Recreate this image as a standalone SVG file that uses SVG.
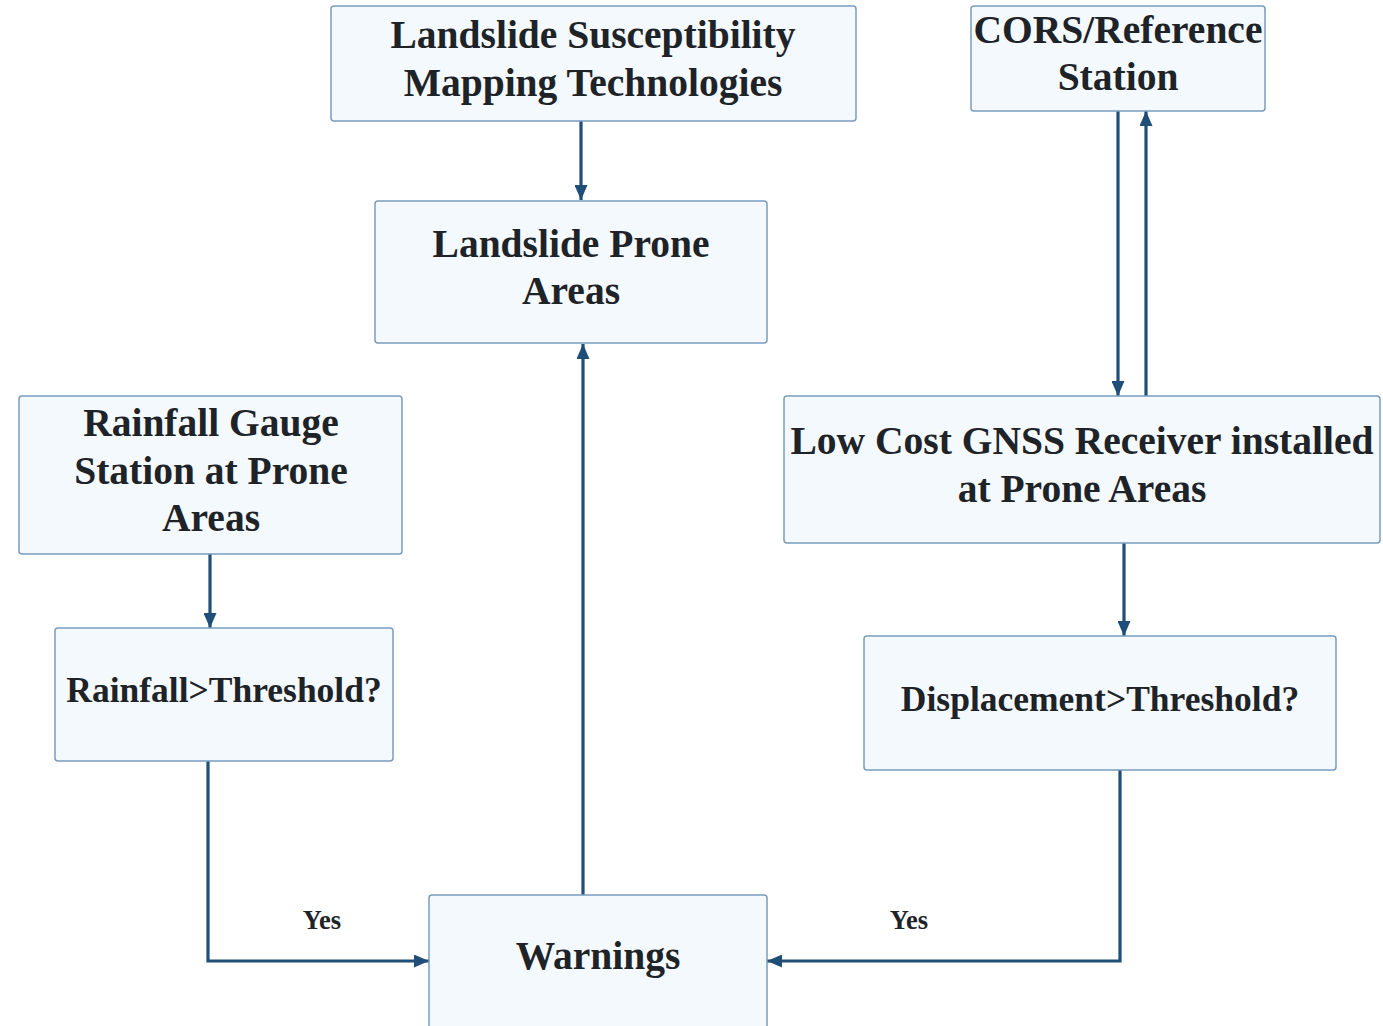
<svg xmlns="http://www.w3.org/2000/svg" width="1383" height="1026" viewBox="0 0 1383 1026">
<style>
.box{fill:#f4f9fd;stroke:#7a9cbd;stroke-width:1.5}
.t{font-family:"Liberation Serif","Times New Roman",serif;font-weight:bold;font-size:39.5px;fill:#1e2328;text-anchor:middle}
.q{font-size:35.5px}
.y{font-size:26.5px}
.c{fill:none;stroke:#1f4e79;stroke-width:3.2;marker-end:url(#ah)}
</style>
<defs>
<marker id="ah" markerUnits="userSpaceOnUse" markerWidth="15" markerHeight="13" viewBox="0 0 15 13" refX="15" refY="6.5" orient="auto">
<path d="M0,0 L15,6.5 L0,13 Z" fill="#1f4e79"/>
</marker>
</defs>
<rect width="1383" height="1026" fill="#ffffff"/>
<g id="connectors">
<path class="c" d="M581,121 V200"/>
<path class="c" d="M1118,111 V396"/>
<path class="c" d="M1146,396 V111"/>
<path class="c" d="M210,554 V628"/>
<path class="c" d="M1124,543 V636"/>
<path class="c" d="M208,761 V961 H429"/>
<path class="c" d="M1120,770 V961 H767"/>
<path class="c" d="M583,895 V344"/>
<text class="t y" x="322" y="929">Yes</text>
<text class="t y" x="909" y="929">Yes</text>
</g>
<g id="lsm">
<rect class="box" x="331" y="6" width="525" height="115" rx="3"/>
<text class="t" x="593" y="48">Landslide Susceptibility</text>
<text class="t" x="593" y="96">Mapping Technologies</text>
</g>
<g id="cors">
<rect class="box" x="971" y="6" width="294" height="105" rx="3"/>
<text class="t" x="1118" y="43">CORS/Reference</text>
<text class="t" x="1118" y="90">Station</text>
</g>
<g id="lpa">
<rect class="box" x="375" y="201" width="392" height="142" rx="3"/>
<text class="t" x="571" y="257">Landslide Prone</text>
<text class="t" x="571" y="304">Areas</text>
</g>
<g id="rain">
<rect class="box" x="19" y="396" width="383" height="158" rx="3"/>
<text class="t" x="211" y="436">Rainfall Gauge</text>
<text class="t" x="211" y="484">Station at Prone</text>
<text class="t" x="211" y="531">Areas</text>
</g>
<g id="rainq">
<rect class="box" x="55" y="628" width="338" height="133" rx="3"/>
<text class="t q" x="224" y="702">Rainfall&gt;Threshold?</text>
</g>
<g id="gnss">
<rect class="box" x="784" y="396" width="596" height="147" rx="3"/>
<text class="t" x="1082" y="454">Low Cost GNSS Receiver installed</text>
<text class="t" x="1082" y="502">at Prone Areas</text>
</g>
<g id="dispq">
<rect class="box" x="864" y="636" width="472" height="134" rx="3"/>
<text class="t q" x="1100" y="711">Displacement&gt;Threshold?</text>
</g>
<g id="warn">
<rect class="box" x="429" y="895" width="338" height="140" rx="3"/>
<text class="t" x="598" y="969">Warnings</text>
</g>
</svg>
